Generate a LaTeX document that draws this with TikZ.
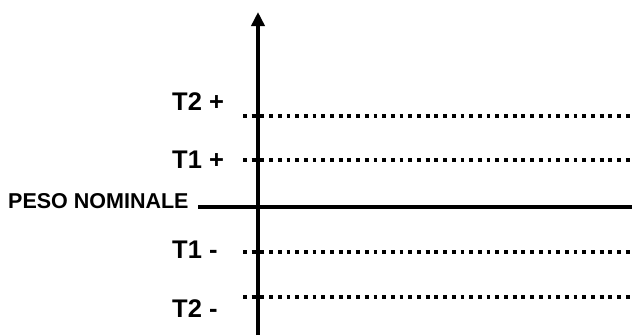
\documentclass[tikz,border=0pt]{standalone}
\usepackage{fontspec}
\setmainfont{Liberation Sans}
\usetikzlibrary{arrows.meta}
\begin{document}
\begin{tikzpicture}[x=1pt,y=-1pt,
  lbl/.style={inner sep=0pt,anchor=base west,font=\bfseries\fontsize{25.5}{25.5}\selectfont},
  plbl/.style={inner sep=0pt,anchor=base west,font=\bfseries\fontsize{21.5}{21.5}\selectfont},
  tol/.style={line width=3.6pt,dash pattern=on 3.8pt off 4.9pt},
  axisline/.style={line width=4.8pt}]
\useasboundingbox (0,0) rectangle (632,335);
\fill[white] (0,0) rectangle (632,335);
% axis
\coordinate (axb) at (258,335);
\coordinate (axt) at (258,12);
\draw[axisline,-{Triangle[width=13pt,length=14pt]}] (axb) -- (axt);
% nominal
\coordinate (ns) at (198,207);
\coordinate (ne) at (632,207);
\draw[line width=4.6pt] (ns) -- (ne);
% tolerance lines
\foreach \n/\yy in {t2p/116,t1p/160,t1m/252,t2m/297}{
  \coordinate (\n s) at (243,\yy);
  \coordinate (\n e) at (632,\yy);
  \draw[tol] (\n s) -- (\n e);
}
% labels
\node[lbl] (lt2p) at (172,110) {T2 +};
\node[lbl] (lt1p) at (172,168) {T1 +};
\node[plbl] (lpn) at (8,208) {PESO NOMINALE};
\node[lbl] (lt1m) at (172,258) {T1 -};
\node[lbl] (lt2m) at (172,317) {T2 -};
\end{tikzpicture}
\end{document}
